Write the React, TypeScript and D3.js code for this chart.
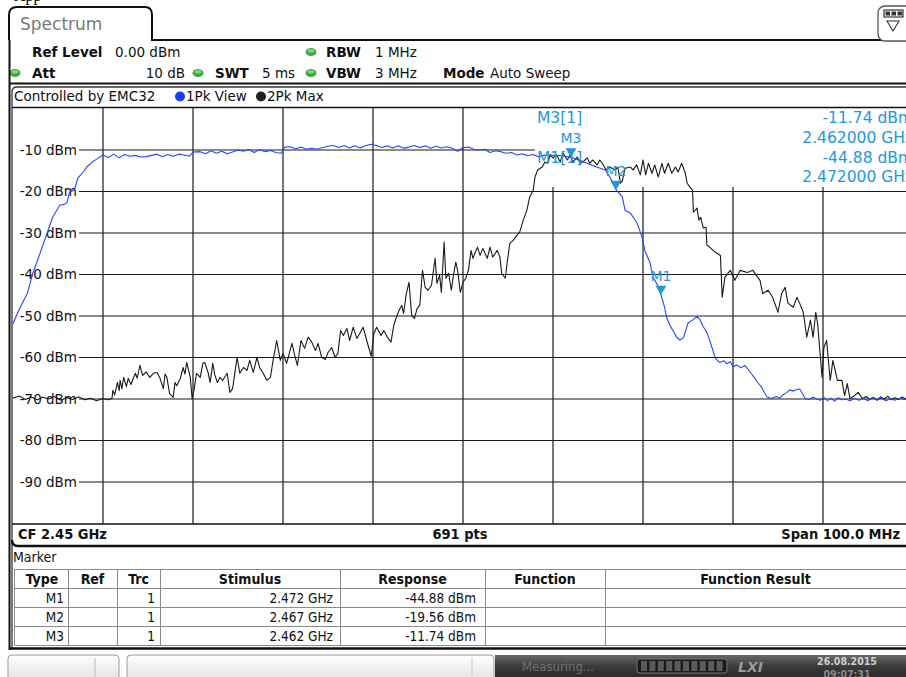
import * as d3 from "d3";

// frequency offsets are MHz from 2.400 GHz, levels are dBm
const levelTicks = [-10, -20, -30, -40, -50, -60, -70, -80, -90];

// trace 2: 2Pk Max (black)
const pkMax: [number, number][] = [
  [0, -69.8], [0.7, -69.3], [1.4, -70.1], [2, -69.5], [2.7, -70.2], [3.3, -69.6], [4, -70], [4.6, -69.4],
  [5.3, -70.3], [6, -69.7], [6.6, -70.1], [7.3, -69.5], [8, -70.2], [8.6, -69.8], [9.3, -70.4], [10, -69.9],
  [10.6, -70.2], [11, -69.8], [11.1, -67.9], [11.3, -69], [11.6, -66], [11.8, -68], [11.9, -65.5], [12.1, -67.5],
  [12.3, -64.8], [12.6, -67], [12.8, -65], [13.1, -66.5], [13.6, -63.8], [13.8, -65], [14.1, -61.9], [14.4, -64.3],
  [14.8, -63.5], [15.2, -64.8], [15.6, -63.8], [16, -63.6], [16.3, -64.8], [16.7, -67.5], [16.9, -64], [17.1, -64.8],
  [17.4, -68.7], [17.8, -69.6], [18, -66], [18.2, -66.8], [18.6, -65], [18.9, -62.4], [19.1, -64], [19.3, -61.2],
  [19.7, -64.8], [19.9, -69.9], [20.1, -68], [20.4, -63.8], [20.8, -64.8], [21.1, -61.4], [21.3, -61.2], [21.7, -63.8],
  [21.9, -66], [22.2, -61.4], [22.4, -64], [22.7, -66], [23, -64.8], [23.3, -65.5], [23.8, -63.8], [24.1, -68.4],
  [24.4, -67.5], [24.7, -63], [24.9, -60], [25.2, -63.8], [25.6, -62.4], [26, -63.1], [26.3, -60.7], [26.7, -63.6],
  [27.1, -60], [27.4, -62.4], [27.8, -63.8], [28.2, -65.5], [28.6, -64.8], [28.9, -60.7], [29.3, -55.9], [29.7, -60.7],
  [30, -59], [30.4, -61.4], [31, -56.6], [31.3, -59.5], [31.6, -61.9], [32, -55.9], [32.4, -57.8], [32.8, -55.1],
  [33.2, -56.3], [33.6, -58.3], [33.9, -56.6], [34.3, -60], [34.7, -60.5], [35, -58.8], [35.4, -57.6], [35.8, -60],
  [36.1, -59], [36.4, -53.5], [36.7, -54.7], [37.1, -53], [37.4, -55.9], [37.8, -52.7], [38.2, -55.4], [38.6, -53.9],
  [38.9, -52.7], [39.3, -55.9], [39.8, -59.7], [40.1, -54.2], [40.4, -52.7], [40.9, -54.7], [41.2, -53.5], [41.6, -55.1],
  [42, -56.3], [42.3, -52.3], [42.6, -50.3], [42.9, -48.6], [43.2, -47.4], [43.4, -49.4], [43.7, -44.6], [44, -41.9],
  [44.3, -49.9], [44.6, -50.6], [44.9, -48.2], [45.2, -47.4], [45.5, -39], [45.8, -43.1], [46.1, -43.8], [46.5, -42.6],
  [46.9, -36.1], [47.1, -42.1], [47.4, -40.2], [47.6, -44.3], [47.9, -32.2], [48.1, -40.9], [48.4, -39.7], [48.7, -43.8],
  [48.9, -40.7], [49.2, -37], [49.4, -39], [49.7, -44.3], [50, -41.9], [50.3, -40.9], [50.6, -39], [50.9, -34.2],
  [51.1, -36.1], [51.6, -33.4], [51.9, -35.4], [52.2, -33.7], [52.7, -36.1], [53, -33.4], [53.3, -35.8], [53.8, -34.2],
  [54.1, -35.8], [54.3, -39.7], [54.7, -40.9], [54.9, -37.3], [55.2, -32.5], [55.6, -31.7], [56, -30.5], [56.3, -29.8],
  [56.7, -26.9], [57.1, -24.5], [57.4, -21.4], [57.8, -19.7], [58, -16.5], [58.3, -14.8], [58.8, -14.1], [59.1, -12.9],
  [59.4, -13.2], [59.7, -11.2], [60, -11.9], [60.4, -11.2], [60.8, -12.9], [61.1, -10.7], [61.6, -12.4], [61.9, -11.2],
  [62.2, -12.9], [62.7, -11.7], [63, -13.2], [63.3, -12.9], [63.8, -11.9], [64.1, -13.2], [64.4, -12.4], [64.9, -13.6],
  [65.2, -12.4], [65.6, -13.6], [65.9, -14.8], [66.3, -14.1], [66.9, -14.8], [67.2, -14.1], [67.5, -18], [67.7, -17.5],
  [68, -14.4], [68.6, -14.1], [68.9, -14.8], [69.3, -13.6], [69.7, -16], [70, -12.4], [70.3, -16], [70.6, -13.2],
  [71, -15.6], [71.3, -13.6], [71.7, -16.5], [72.1, -13.2], [72.4, -15.6], [72.8, -13.2], [73.2, -15.6], [73.6, -14.1],
  [73.9, -15.3], [74.3, -13.2], [74.7, -15.6], [74.9, -18], [75.2, -18.9], [75.5, -19.7], [75.6, -25], [76, -24],
  [76.2, -26.9], [76.4, -26.2], [76.7, -28.8], [77, -28.6], [77.1, -32.9], [77.4, -33.4], [78, -34.6], [78.6, -35.4],
  [78.8, -45.5], [79.1, -40.7], [79.7, -39], [80.2, -41.4], [80.8, -39], [81.6, -39.5], [82.2, -39], [83, -41.4],
  [83.3, -44.6], [83.9, -43.8], [84.4, -45.5], [85, -49.1], [85.4, -44.6], [85.8, -43.1], [86.1, -46.9], [86.7, -47.9],
  [87.1, -45.5], [87.4, -46.9], [87.8, -49.1], [88.2, -55.1], [88.6, -51], [88.9, -55.1], [89.2, -49.1], [89.4, -51.8],
  [89.9, -64.8], [90.1, -57.6], [90.4, -55.9], [90.8, -65.5], [91.1, -60.7], [91.6, -65.5], [92.1, -65.5], [92.4, -69.2],
  [92.7, -66.3], [93, -69.9], [93.5, -69.2], [93.9, -68.4], [94.4, -69.9], [94.8, -69.4], [95.2, -70.1], [95.6, -69.6],
  [96, -70.3], [96.4, -69.5], [96.8, -70], [97.2, -69.3], [97.6, -70.2], [98, -69.7], [98.4, -70.1], [98.8, -69.5],
  [99.2, -70], [99.6, -69.6], [100, -70],
];

// trace 1: 1Pk View (blue)
const pkView: [number, number][] = [
  [0, -51.8], [0.8, -47.9], [1.6, -44.5], [2.2, -39.7], [3, -34.9], [3.8, -30], [4.4, -26.2], [5.2, -23.3],
  [5.7, -23.1], [6, -22.6], [6.3, -20.1], [6.8, -19.7], [7.2, -16.8], [7.8, -15.3], [8.2, -14.1], [8.8, -12.9],
  [9.3, -12.2], [10, -11.2], [10.6, -11.8], [11.2, -11], [11.8, -11.9], [12.4, -11.1], [13, -11.5], [13.6, -11.3],
  [14.2, -11.7], [14.8, -11.6], [15.4, -11.3], [16, -11], [16.6, -11.6], [17.2, -11.1], [17.8, -11.5], [18.4, -11],
  [19, -11.2], [19.6, -11.5], [20, -10.5], [20.8, -10.4], [21.4, -10.9], [22, -10.2], [22.6, -10.8], [23.2, -10.3],
  [23.8, -10.9], [24.4, -10.5], [25, -10], [25.6, -10.3], [26.2, -9.9], [26.8, -10.6], [27.4, -9.9], [28, -10.4],
  [28.6, -10.1], [29.2, -10.6], [29.8, -10.8], [30.2, -9.3], [30.8, -9.2], [31.4, -9.7], [32, -9.3], [32.6, -9.8],
  [33.2, -9.6], [33.8, -9.8], [34.4, -9.4], [35, -9.1], [35.6, -8.9], [36.2, -9.4], [36.8, -8.9], [37.4, -9.5],
  [38, -9], [38.6, -9.5], [39.2, -8.9], [39.8, -8.6], [40.4, -8.9], [41, -9.4], [41.6, -9], [42.2, -9.5],
  [42.8, -9], [43.4, -9.6], [44, -9.3], [44.6, -8.9], [45.2, -9.4], [45.8, -9], [46.4, -9.6], [47, -9.1],
  [47.6, -9.5], [48.2, -9.2], [48.8, -9.6], [49.4, -10.3], [50, -9.4], [50.6, -9.3], [51.2, -9.8], [51.8, -10],
  [52.4, -9.8], [53, -10.6], [53.6, -10.2], [54.2, -10.4], [54.8, -10.8], [55.4, -10.6], [56, -11.2], [56.6, -10.9],
  [57.2, -11.4], [57.8, -11.1], [58.4, -11.6], [59, -11.3], [59.6, -11.2], [60.2, -11.3], [61, -11.4], [62, -11.74],
  [63, -12.5], [64, -13.4], [65, -14.2], [65.8, -14.8], [66.4, -16.8], [67, -19.56], [67.7, -21.3], [68, -24.5],
  [68.6, -25.2], [69.3, -27.4], [69.9, -31], [70.2, -34.2], [70.8, -37.3], [71.1, -40.6], [71.6, -42.5], [72, -44.88],
  [72.4, -47.9], [72.6, -50.2], [73, -52.3], [73.3, -53.4], [73.7, -55], [74.1, -55.8], [74.5, -55.2], [75, -51.7],
  [75.5, -51], [76, -50.1], [76.3, -50.8], [76.7, -52.6], [77.1, -54], [77.4, -55.8], [77.8, -58.5], [78, -60.1],
  [78.5, -61.2], [79, -60.8], [79.3, -61.5], [79.7, -61], [80, -62.3], [80.4, -61.8], [80.9, -62.5], [81.3, -61.9],
  [81.6, -62.6], [82, -63.8], [82.4, -64.9], [82.7, -65.9], [83.2, -67.2], [83.5, -68.5], [83.8, -69.5], [84.3, -69.9],
  [84.8, -69.4], [85.2, -69.8], [85.6, -68.9], [86, -68.4], [86.3, -67.8], [86.7, -68.1], [87.1, -67.7], [87.4, -67.6],
  [87.7, -68.6], [88, -69.8], [88.4, -70.1], [88.9, -69.6], [89.3, -70], [89.7, -70.3], [90.1, -69.6], [90.5, -70.4],
  [90.9, -69.8], [91.3, -70.5], [91.7, -69.7], [92.1, -70.2], [92.5, -70], [93, -70.4], [93.5, -69.8], [94, -70.3],
  [94.5, -69.9], [95, -70.4], [95.5, -69.7], [96, -70.2], [96.5, -69.8], [97, -70.4], [97.5, -69.9], [98, -70.3],
  [98.5, -69.8], [99, -70.1], [99.5, -69.8], [100, -70.2],
];

const markerNames = ["M1", "M2", "M3"];
const markerOffsets = [72, 67, 62];
const markerLevels = [-44.88, -19.56, -11.74];
const tableHeaders = ["Type", "Ref", "Trc", "Stimulus", "Response", "Function", "Function Result"];

const SANS = "'DejaVu Sans', Verdana, sans-serif";
const COND = "'DejaVu Sans Condensed', 'DejaVu Sans', sans-serif";
const MK = "#1e98dc";

const ghz = (off: number, digits: number) => (2.4 + off / 1000).toFixed(digits) + " GHz";

const GreenDot: React.FC<{ cx: number; cy: number }> = ({ cx, cy }) => (
  <g>
    <ellipse cx={cx} cy={cy} rx={5.5} ry={4} fill="#3aa845" />
    <ellipse cx={cx} cy={cy - 1.2} rx={3.5} ry={1.8} fill="#7fd87f" />
  </g>
);

export default function App() {
  const x = d3.scaleLinear([0, 100], [13, 913]);
  const y = d3.scaleLinear([-100, 0], [523.5, 108.5]);
  const line = d3.line<[number, number]>((d) => x(d[0]), (d) => y(d[1]));
  const xGrid = x.ticks(10).filter((t) => t > 0 && t < 100);
  const infoLeft = 535;
  const infoBottom = 187;

  const colX = [12, 68, 117, 160, 340, 485, 605, 906];
  const rowY = [569, 588, 607, 626, 645];

  const info = [2, 0]; // M3 and M1 shown in the marker info field

  return (
    <svg width={906} height={677} style={{ position: "absolute", left: 0, top: 0, background: "#fff" }}>
      <defs>
        <clipPath id="plot">
          <rect x={13} y={108} width={900} height={416} />
        </clipPath>
        <linearGradient id="dark" x1="0" y1="0" x2="0" y2="1">
          <stop offset="0" stopColor="#6a6a6a" />
          <stop offset="0.5" stopColor="#3c3c3c" />
          <stop offset="1" stopColor="#2a2a2a" />
        </linearGradient>
        <linearGradient id="light" x1="0" y1="0" x2="0" y2="1">
          <stop offset="0" stopColor="#ffffff" />
          <stop offset="1" stopColor="#e2e2e2" />
        </linearGradient>
      </defs>

      <text x={14} y={1} fontFamily="serif" fontSize={16}>App</text>

      {/* tab */}
      <path d="M9,40 L9,15 Q9,7 17,7 L145,7 Q152,7 152,15 L152,40 L906,40" fill="none" stroke="#111" strokeWidth={2} />
      <text x={20} y={30} fontFamily={SANS} fontSize={17} fill="#7a7a7a">Spectrum</text>
      <rect x={878} y={6} width={36} height={35} rx={7} fill="#fff" stroke="#555" strokeWidth={1.3} />
      <rect x={884} y={10} width={19} height={7} fill="#fff" stroke="#333" strokeWidth={1.2} />
      {[0, 1, 2].map((i) => (
        <rect key={i} x={885.5 + i * 6} y={11.5} width={4.5} height={4} fill="#333" />
      ))}
      <path d="M887,21 L899,21 L893,31 Z" fill="#fff" stroke="#333" strokeWidth={1.1} />

      {/* header settings */}
      <g fontFamily={SANS} fontSize={13.5} fill="#111">
        <text x={32} y={57} fontWeight="bold">Ref Level</text>
        <text x={115} y={57}>0.00 dBm</text>
        <GreenDot cx={311} cy={52} />
        <text x={326} y={57} fontWeight="bold">RBW</text>
        <text x={375} y={57}>1 MHz</text>
        <GreenDot cx={15} cy={73} />
        <text x={32} y={78} fontWeight="bold">Att</text>
        <text x={185} y={78} textAnchor="end">10 dB</text>
        <GreenDot cx={198} cy={73} />
        <text x={215} y={78} fontWeight="bold">SWT</text>
        <text x={262} y={78}>5 ms</text>
        <GreenDot cx={311} cy={73} />
        <text x={326} y={78} fontWeight="bold">VBW</text>
        <text x={375} y={78}>3 MHz</text>
        <text x={443} y={78} fontWeight="bold">Mode</text>
        <text x={490} y={78}>Auto Sweep</text>
      </g>
      <line x1={9} x2={906} y1={83.5} y2={83.5} stroke="#111" strokeWidth={2} />

      {/* window frame */}
      <line x1={9.5} x2={9.5} y1={40} y2={650} stroke="#111" strokeWidth={2} />
      <path d="M12,650 L12,92 Q12,87 17,87 L906,87" fill="none" stroke="#333" strokeWidth={1.3} />
      <g fontFamily={SANS} fontSize={13.5} fill="#111">
        <text x={14} y={101}>Controlled by EMC32</text>
        <circle cx={180} cy={96.5} r={5} fill="#1b3cf5" />
        <text x={186} y={101}>1Pk View</text>
        <circle cx={261} cy={96.5} r={5} fill="#222" />
        <text x={267} y={101}>2Pk Max</text>
      </g>
      <line x1={12} x2={906} y1={107.5} y2={107.5} stroke="#111" strokeWidth={1.5} />

      {/* grid */}
      <g stroke="#1a1a1a" strokeWidth={1.2}>
        {xGrid.map((t) => (
          <line key={t} x1={x(t)} x2={x(t)} y1={x(t) > infoLeft ? infoBottom : 108} y2={524} />
        ))}
        {levelTicks.map((t) => (
          <line key={t} x1={79} x2={t === -10 ? infoLeft : 913} y1={y(t)} y2={y(t)} />
        ))}
      </g>
      <g fontFamily={SANS} fontSize={13.5} fill="#111" textAnchor="end">
        {levelTicks.map((t) => (
          <text key={t} x={77} y={y(t)} dy="0.35em">{`${t} dBm`}</text>
        ))}
      </g>

      {/* traces */}
      <g clipPath="url(#plot)" fill="none" strokeWidth={1.1} strokeLinejoin="round">
        <path d={line(pkMax) ?? undefined} stroke="#1a1a1a" />
        <path d={line(pkView) ?? undefined} stroke="#2a44ff" />
      </g>

      {/* markers */}
      <g fontFamily={SANS} fill={MK}>
        {markerNames.map((m, i) => {
          const mx = x(markerOffsets[i]);
          const my = y(markerLevels[i]);
          return (
            <g key={m}>
              <path d={`M${mx - 5.5},${my - 9} L${mx + 5.5},${my - 9} L${mx},${my} Z`} />
              <text x={mx} y={my - 19} dy="0.35em" textAnchor="middle" fontSize={14}>{m}</text>
            </g>
          );
        })}
        {info.map((i, k) => (
          <g key={i} fontSize={15.5}>
            <text x={537} y={118 + k * 39.5} dy="0.35em">{`${markerNames[i]}[1]`}</text>
            <text x={913} y={118 + k * 39.5} dy="0.35em" textAnchor="end">{`${markerLevels[i].toFixed(2)} dBm`}</text>
            <text x={913} y={137.5 + k * 39.5} dy="0.35em" textAnchor="end">{ghz(markerOffsets[i], 6)}</text>
          </g>
        ))}
      </g>

      {/* CF bar */}
      <line x1={12} x2={906} y1={524} y2={524} stroke="#111" strokeWidth={1.5} />
      <g fontFamily={COND} fontSize={14.5} fontWeight="bold" fill="#111">
        <text x={18} y={539}>CF 2.45 GHz</text>
        <text x={460} y={539} textAnchor="middle">691 pts</text>
        <text x={900} y={539} textAnchor="end">Span 100.0 MHz</text>
      </g>
      <path d="M12,540 Q12,546 18,546 L906,546" fill="none" stroke="#111" strokeWidth={2.5} />

      {/* marker table */}
      <text x={13} y={562} fontFamily={COND} fontSize={14} fill="#111">Marker</text>
      <g stroke="#8a8a8a" strokeWidth={1} fill="none">
        {rowY.map((ry) => (
          <line key={ry} x1={colX[0] + 2} x2={906} y1={ry + 0.5} y2={ry + 0.5} />
        ))}
        {colX.slice(1, 7).map((cx) => (
          <line key={cx} x1={cx + 0.5} x2={cx + 0.5} y1={rowY[0]} y2={rowY[4]} />
        ))}
        <line x1={14.5} x2={14.5} y1={rowY[0]} y2={rowY[4]} />
      </g>
      <g fontFamily={COND} fontSize={14} fontWeight="bold" fill="#111" textAnchor="middle">
        {tableHeaders.map((h, i) => (
          <text key={h} x={(colX[i] + colX[i + 1]) / 2 + (i === 0 ? 2 : 0)} y={584}>{h}</text>
        ))}
      </g>
      <g fontFamily={COND} fontSize={13.5} fill="#111" textAnchor="end">
        {markerNames.map((m, i) => (
          <g key={m}>
            <text x={colX[1] - 4} y={rowY[i + 1] + 15}>{m}</text>
            <text x={colX[3] - 5} y={rowY[i + 1] + 15}>1</text>
            <text x={colX[4] - 7} y={rowY[i + 1] + 15}>{ghz(markerOffsets[i], 3)}</text>
            <text x={colX[5] - 9} y={rowY[i + 1] + 15}>{`${markerLevels[i].toFixed(2)} dBm`}</text>
          </g>
        ))}
      </g>
      <line x1={9} x2={906} y1={648.5} y2={648.5} stroke="#111" strokeWidth={2.5} />

      {/* status bar */}
      <rect x={8} y={655} width={111} height={26} rx={4} fill="url(#light)" stroke="#9a9a9a" />
      <line x1={95} x2={95} y1={658} y2={677} stroke="#bbb" />
      <rect x={127} y={655} width={367} height={26} rx={4} fill="url(#light)" stroke="#9a9a9a" />
      <line x1={472} x2={472} y1={658} y2={677} stroke="#ccc" />
      <rect x={495} y={655} width={411} height={22} fill="url(#dark)" />
      <text x={522} y={671} fontFamily={COND} fontSize={13} fill="#6e6e6e">Measuring...</text>
      <rect x={637} y={659} width={90} height={14} rx={3} fill="#1a1a1a" stroke="#777" />
      {[0, 1, 2, 3, 4, 5, 6, 7, 8, 9].map((i) => (
        <rect key={i} x={641 + i * 8.4} y={661} width={6} height={10} fill="#5a5a5a" />
      ))}
      <text x={738} y={672} fontFamily={SANS} fontSize={14} fontWeight="bold" fontStyle="italic" fill="#9a9a9a">LXI</text>
      <text x={847} y={665} fontFamily={COND} fontSize={10.5} fontWeight="bold" fill="#cfcfcf" textAnchor="middle">26.08.2015</text>
      <text x={847} y={678} fontFamily={COND} fontSize={10.5} fontWeight="bold" fill="#8a8a8a" textAnchor="middle">09:07:31</text>
    </svg>
  );
}
